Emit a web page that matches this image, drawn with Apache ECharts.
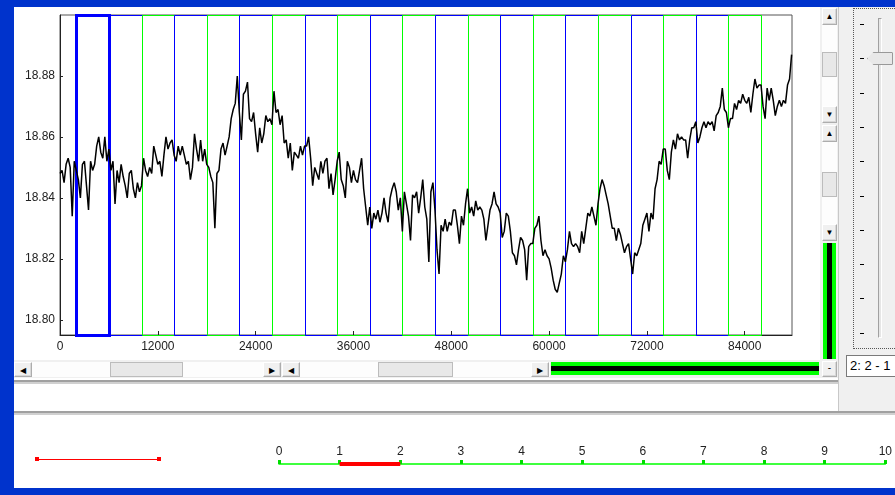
<!DOCTYPE html>
<html>
<head>
<meta charset="utf-8">
<script src="https://cdn.jsdelivr.net/npm/echarts@6/dist/echarts.min.js"></script>
<style>
html,body{margin:0;padding:0;}
body{width:895px;height:495px;background:#0033cc;position:relative;overflow:hidden;font-family:"Liberation Sans",Arial,sans-serif;}
.a{position:absolute;box-sizing:border-box;}
.btn{background:#f0f0f0;border:1px solid #adadad;border-top-color:#fff;border-left-color:#fff;box-shadow:inset -1px -1px 0 #d8d8d8;}
.trk{background:#fdfdfd;}
.thumb{background:#e8e8e8;border:1px solid #bcbcbc;}
.arr{font-size:8px;line-height:15px;text-align:center;color:#000;}
#chart{position:absolute;left:0;top:0;width:895px;height:495px;}
</style>
</head>
<body>
<!-- chrome -->
<div class="a" style="left:14px;top:7px;width:806px;height:353px;background:#fff"></div>
<div class="a" style="left:820px;top:7px;width:18px;height:371px;background:#f0f0f0"></div>
<div class="a" style="left:14px;top:360px;width:806px;height:18px;background:#f0f0f0"></div>
<!-- horizontal scrollbar 1 -->
<div class="a trk" style="left:14px;top:362px;width:267px;height:15px"></div>
<div class="a btn arr" style="left:14px;top:362px;width:18px;height:15px">&#9664;</div>
<div class="a thumb" style="left:110px;top:362px;width:73px;height:15px"></div>
<div class="a btn arr" style="left:263px;top:362px;width:18px;height:15px">&#9654;</div>
<!-- horizontal scrollbar 2 -->
<div class="a trk" style="left:282px;top:362px;width:268px;height:15px"></div>
<div class="a btn arr" style="left:282px;top:362px;width:18px;height:15px">&#9664;</div>
<div class="a thumb" style="left:378px;top:362px;width:75px;height:15px"></div>
<div class="a btn arr" style="left:531px;top:362px;width:18px;height:15px">&#9654;</div>
<!-- green bar horizontal -->
<div class="a" style="left:551px;top:362px;width:268px;height:13px;background:#00ff00"></div>
<div class="a" style="left:551px;top:366px;width:268px;height:5px;background:#000"></div>
<!-- vertical scrollbars -->
<div class="a trk" style="left:822px;top:8px;width:15px;height:115px"></div>
<div class="a btn arr" style="left:822px;top:8px;width:15px;height:17px">&#9650;</div>
<div class="a thumb" style="left:822px;top:52px;width:15px;height:25px"></div>
<div class="a btn arr" style="left:822px;top:106px;width:15px;height:17px">&#9660;</div>
<div class="a trk" style="left:822px;top:125px;width:15px;height:116px"></div>
<div class="a btn arr" style="left:822px;top:125px;width:15px;height:17px">&#9650;</div>
<div class="a thumb" style="left:822px;top:172px;width:15px;height:25px"></div>
<div class="a btn arr" style="left:822px;top:224px;width:15px;height:17px">&#9660;</div>
<div class="a" style="left:823px;top:243px;width:13px;height:116px;background:#00ff00"></div>
<div class="a" style="left:827px;top:243px;width:5px;height:116px;background:#000"></div>
<div class="a btn" style="left:822px;top:361px;width:15px;height:16px;font-size:10px;text-align:center;line-height:12px">-</div>
<!-- separators -->
<div class="a" style="left:14px;top:378px;width:881px;height:35px;background:#fff"></div>
<div class="a" style="left:14px;top:380px;width:824px;height:2px;background:#a0a0a0"></div>
<div class="a" style="left:14px;top:382px;width:824px;height:2px;background:#d0d0d0"></div>
<div class="a" style="left:14px;top:411px;width:881px;height:2px;background:#a0a0a0"></div>
<div class="a" style="left:14px;top:413px;width:881px;height:2px;background:#d0d0d0"></div>
<div class="a" style="left:14px;top:415px;width:881px;height:73px;background:#fff"></div>
<!-- right panel -->
<div class="a" style="left:838px;top:7px;width:57px;height:404px;background:#f0f0f0;border-left:1px solid #c8c8c8"></div>
<div class="a" style="left:853px;top:8px;width:50px;height:341px;border:1px dotted #555"></div>
<div class="a" style="left:878px;top:18px;width:4px;height:320px;background:#e6e6e6;border:1px solid #a0a0a0;border-right-color:#fff;border-bottom-color:#fff"></div>
<div class="a" style="left:867px;top:52px;width:26px;height:13px;background:#e8e8e8;border:1px solid #999;border-radius:1px;clip-path:polygon(25% 0,100% 0,100% 100%,25% 100%,0 50%)"></div>
<div id="ticks"></div>
<div class="a" style="left:846px;top:355px;width:60px;height:22px;background:#fff;border:1px solid #7a7a7a;font-size:13px;line-height:20px;padding-left:3px;color:#000">2: 2 - 1</div>
<!-- colour sample line (bottom left) -->
<div class="a" style="left:37px;top:459px;width:122px;height:1px;background:#ff0000"></div>
<div class="a" style="left:35px;top:457px;width:4px;height:4px;background:#ff0000"></div>
<div class="a" style="left:157px;top:457px;width:4px;height:4px;background:#ff0000"></div>

<div id="chart"></div>
<script>
// ---------------- data ----------------
const xStep = 250;
const trace = [
18.848,18.849,18.845,18.851,18.853,18.850,18.834,18.852,18.849,18.846,
18.840,18.851,18.852,18.844,18.836,18.852,18.849,18.851,18.857,18.860,
18.855,18.853,18.860,18.852,18.856,18.849,18.852,18.838,18.849,18.845,
18.851,18.847,18.844,18.840,18.848,18.849,18.843,18.840,18.845,18.842,
18.844,18.853,18.849,18.847,18.850,18.848,18.857,18.854,18.851,18.852,
18.847,18.854,18.860,18.856,18.858,18.859,18.854,18.852,18.857,18.854,
18.857,18.854,18.851,18.852,18.846,18.850,18.861,18.856,18.852,18.859,
18.852,18.856,18.851,18.850,18.847,18.845,18.830,18.848,18.849,18.856,
18.858,18.854,18.857,18.860,18.866,18.869,18.871,18.880,18.868,18.859,
18.874,18.875,18.878,18.866,18.865,18.868,18.861,18.855,18.863,18.858,
18.861,18.867,18.865,18.866,18.864,18.875,18.868,18.869,18.864,18.867,
18.858,18.859,18.853,18.858,18.849,18.855,18.854,18.853,18.857,18.854,
18.857,18.857,18.860,18.853,18.844,18.850,18.848,18.846,18.852,18.848,
18.852,18.853,18.843,18.848,18.841,18.846,18.852,18.855,18.846,18.844,
18.840,18.852,18.850,18.845,18.849,18.846,18.845,18.849,18.853,18.843,
18.837,18.831,18.837,18.830,18.835,18.833,18.836,18.832,18.835,18.840,
18.835,18.832,18.840,18.843,18.845,18.842,18.836,18.840,18.829,18.842,
18.838,18.834,18.826,18.841,18.840,18.842,18.835,18.840,18.846,18.837,
18.833,18.819,18.842,18.845,18.836,18.823,18.815,18.831,18.829,18.833,
18.829,18.832,18.831,18.836,18.836,18.831,18.825,18.834,18.831,18.838,
18.843,18.835,18.837,18.834,18.839,18.836,18.837,18.836,18.833,18.826,
18.831,18.836,18.838,18.842,18.838,18.837,18.835,18.827,18.829,18.835,
18.834,18.829,18.822,18.821,18.818,18.823,18.827,18.826,18.823,18.813,
18.824,18.825,18.825,18.830,18.831,18.834,18.826,18.821,18.823,18.821,
18.820,18.817,18.813,18.810,18.809,18.812,18.815,18.821,18.819,18.823,
18.829,18.825,18.824,18.825,18.824,18.822,18.829,18.825,18.830,18.835,
18.834,18.837,18.834,18.831,18.838,18.843,18.846,18.844,18.841,18.838,
18.834,18.830,18.830,18.826,18.830,18.828,18.825,18.822,18.824,18.825,
18.820,18.815,18.822,18.821,18.823,18.825,18.831,18.833,18.835,18.829,
18.835,18.833,18.843,18.846,18.852,18.851,18.856,18.856,18.849,18.846,
18.855,18.859,18.856,18.861,18.859,18.860,18.859,18.859,18.853,18.859,
18.863,18.863,18.865,18.858,18.860,18.863,18.865,18.863,18.865,18.864,
18.865,18.862,18.867,18.868,18.870,18.876,18.869,18.868,18.863,18.866,
18.866,18.871,18.869,18.872,18.871,18.874,18.872,18.871,18.873,18.868,
18.874,18.879,18.876,18.877,18.877,18.870,18.866,18.876,18.872,18.876,
18.872,18.867,18.870,18.872,18.870,18.872,18.871,18.877,18.879,18.887
];
const xTicks = [0, 12000, 24000, 36000, 48000, 60000, 72000, 84000];
const yTicks = [18.80, 18.82, 18.84, 18.86, 18.88];
const regionStarts = [6000,10000,14000,18000,22000,26000,30000,34000,38000,42000,46000,50000,54000,58000,62000,66000,70000,74000,78000,82000];
const regionKinds  = [0,1,0,1,0,1,0,1,0,1,0,1,0,1,0,1,0,1,0,1]; // 0 blue, 1 green
const regionWidth = 4000;
const selectedRegion = [2000, 6000];
const scaleTicks = [0,1,2,3,4,5,6,7,8,9,10];
const scaleSelection = [1, 2];

// slider ticks (UI chrome)
const tk = document.getElementById('ticks');
for (let k = 0; k < 10; k++) {
  const d = document.createElement('div');
  d.className = 'a';
  d.style.cssText = 'left:860px;width:4px;height:1px;background:#000;top:' + (24 + k * 34.3).toFixed(0) + 'px';
  tk.appendChild(d);
}

const chart = echarts.init(document.getElementById('chart'), null, {renderer: 'canvas'});
const font = 'Liberation Sans';
const kindColor = ['#0000ff', '#00ff00', '#0000ff'];
const kindWidth = [1, 1, 3];
const yMin = 18.795, yMax = 18.9;

chart.setOption({
  backgroundColor: 'transparent',
  animation: false,
  grid: [
    {left: 60, top: 15, width: 732, height: 320, show: true, borderColor: '#555', borderWidth: 1, backgroundColor: 'transparent'},
    {left: 279, top: 440, width: 608, height: 24}
  ],
  xAxis: [
    {gridIndex: 0, type: 'value', min: 0, max: 89800,
     splitLine: {show: false},
     axisLine: {onZero: false, lineStyle: {color: '#222', width: 1}},
     axisTick: {inside: true, length: 4, customValues: xTicks, lineStyle: {color: '#222'}},
     axisLabel: {customValues: xTicks, color: '#222', fontSize: 12, fontFamily: font, margin: 6,
                 formatter: v => String(v)}},
    {gridIndex: 1, type: 'value', min: 0, max: 10, interval: 1,
     splitLine: {show: false},
     axisLine: {onZero: false, lineStyle: {color: '#00ff00', width: 1.5}},
     axisTick: {inside: true, length: 4, customValues: scaleTicks, lineStyle: {color: '#00dd00', width: 3}},
     axisLabel: {inside: true, customValues: scaleTicks, color: '#222', fontSize: 12, fontFamily: font, margin: 6}}
  ],
  yAxis: [
    {gridIndex: 0, type: 'value', min: yMin, max: yMax,
     splitLine: {show: false},
     axisLine: {show: true, onZero: false, lineStyle: {color: '#222'}},
     axisTick: {inside: true, length: 3, customValues: yTicks, lineStyle: {color: '#222'}},
     axisLabel: {customValues: yTicks, color: '#222', fontSize: 12, fontFamily: font, margin: 5,
                 formatter: v => v.toFixed(2)}},
    {gridIndex: 1, type: 'value', min: 0, max: 1, show: false}
  ],
  series: [
    {type: 'line', xAxisIndex: 0, yAxisIndex: 0, z: 5,
     data: trace.map((v, i) => [i * xStep, v]),
     symbol: 'none', lineStyle: {color: '#000', width: 1.5}},
    {type: 'line', xAxisIndex: 1, yAxisIndex: 1, z: 5,
     data: [[scaleSelection[0], 0], [scaleSelection[1], 0]],
     symbol: 'none', lineStyle: {color: '#ff0000', width: 4}}
  ]
});

// region rectangles, positioned through the chart's own x/y scales
const toPx = (x, y) => chart.convertToPixel({gridIndex: 0}, [x, y]);
const regions = regionStarts.map((s, k) => [s, s + regionWidth, regionKinds[k]]);
regions.push([selectedRegion[0], selectedRegion[1], 2]);
const rects = regions.map(([s, e, k], idx) => {
  const p0 = toPx(s, yMax), p1 = toPx(e, yMin);
  const x0 = Math.round(p0[0]), x1 = Math.round(p1[0]);
  const y0 = Math.round(p0[1]), y1 = Math.round(p1[1]);
  return {
    type: 'rect', z: 2 + idx * 0.001, silent: true,
    shape: {x: x0 + 0.5, y: y0 + 0.5, width: x1 - x0, height: y1 - y0},
    style: {fill: 'rgba(0,0,0,0)', stroke: kindColor[k], lineWidth: kindWidth[k]}
  };
});
chart.setOption({graphic: rects});
</script>
</body>
</html>
